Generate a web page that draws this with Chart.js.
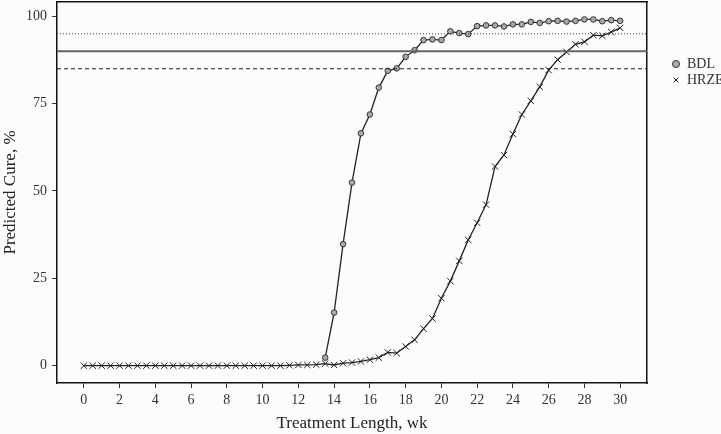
<!DOCTYPE html>
<html>
<head>
<meta charset="utf-8">
<title>Predicted cure by treatment length</title>
<script src="https://cdn.jsdelivr.net/npm/chart.js@4.4.1/dist/chart.umd.min.js"></script>
<style>
  html, body { margin: 0; padding: 0; background: #fcfcfc; }
  #wrap { width: 721px; height: 434px; position: relative; }
</style>
</head>
<body>
<div id="wrap"><canvas id="cure-chart"></canvas></div>
<script>
// treatment length, weeks (half-week steps)
var weeks = [0, 0.5, 1, 1.5, 2, 2.5, 3, 3.5, 4, 4.5, 5, 5.5, 6, 6.5, 7, 7.5, 8, 8.5, 9, 9.5,
    10, 10.5, 11, 11.5, 12, 12.5, 13, 13.5, 14, 14.5, 15, 15.5, 16, 16.5, 17, 17.5, 18, 18.5, 19, 19.5,
    20, 20.5, 21, 21.5, 22, 22.5, 23, 23.5, 24, 24.5, 25, 25.5, 26, 26.5, 27, 27.5, 28, 28.5, 29, 29.5, 30];

// HRZE, one value per week above
var hrzeCure = [0, 0, 0, 0, 0, 0, 0, 0, 0, 0, 0, 0, 0, 0, 0, 0, 0, 0, 0, 0,
    0, 0, 0, 0.1, 0.2, 0.2, 0.3, 0.6, 0.2, 0.7, 0.9, 1.2, 1.7, 2.3, 3.8, 3.6, 5.5, 7.4, 10.6, 13.5,
    19.3, 24.2, 30, 36, 40.9, 46.1, 57, 60.3, 66.3, 71.9, 75.8, 79.8, 84.6, 87.6, 89.8, 92, 92.7, 94.6, 94.4, 95.5, 96.7];

// BDL starts at 13.5 weeks
var bdlStart = 13.5;
var bdlCure = [2.3, 15.2, 34.8, 52.4, 66.5, 71.9, 79.6, 84.4, 85.1, 88.4, 90.3, 93.2, 93.4, 93.2, 95.7, 95.2,
    94.9, 97.2, 97.4, 97.4, 97.1, 97.7, 97.7, 98.4, 98.1, 98.6, 98.7, 98.5, 98.7, 99.1, 99.1, 98.6, 98.9, 98.7];

// reference levels: 95 dotted, 90 solid, 85 dashed
var refLevels = [95, 90, 85];

var xTicks = [0, 2, 4, 6, 8, 10, 12, 14, 16, 18, 20, 22, 24, 26, 28, 30];
var yTicks = [0, 25, 50, 75, 100];

var xMin = -1.5, xMax = 31.5;
var yMin = -4.96, yMax = 104.1;

var serif = "'Liberation Serif', 'Times New Roman', serif";
var ink = '#222';

var hrzePoints = weeks.map(function (w, i) { return {x: w, y: hrzeCure[i]}; });
var bdlWeeks = weeks.slice(weeks.indexOf(bdlStart));
var bdlPoints = bdlWeeks.map(function (w, i) { return {x: w, y: bdlCure[i]}; });

function refLine(level, color, width, dash) {
    return {
        label: 'ref' + level,
        data: [{x: xMin, y: level}, {x: xMax, y: level}],
        borderColor: color,
        borderWidth: width,
        borderDash: dash,
        pointRadius: 0,
        pointHoverRadius: 0,
        fill: false
    };
}

var datasets = [
    refLine(refLevels[0], '#444', 1, [1, 2]),
    refLine(refLevels[1], '#666', 2, []),
    refLine(refLevels[2], '#222', 1.2, [4, 3]),
    {
        label: 'BDL',
        data: bdlPoints,
        borderColor: ink,
        borderWidth: 1.3,
        pointStyle: 'circle',
        pointRadius: 2.8,
        pointBorderWidth: 1,
        pointBackgroundColor: '#aaa',
        pointBorderColor: '#333',
        fill: false
    },
    {
        label: 'HRZE',
        data: hrzePoints,
        borderColor: ink,
        borderWidth: 1.3,
        pointStyle: 'crossRot',
        pointRadius: 4.5,
        pointBorderWidth: 1,
        pointBorderColor: '#222',
        fill: false
    }
];

// no label overhang padding: the frame sits where the reference puts it
function noPad(scale) {
    scale.paddingTop = 0;
    scale.paddingBottom = 0;
    scale.paddingLeft = 0;
    scale.paddingRight = 0;
}

var ctx = document.getElementById('cure-chart');
var cureChart = new Chart(ctx, {
    type: 'line',
    data: {datasets: datasets},
    options: {
        responsive: true,
        maintainAspectRatio: false,
        animation: false,
        devicePixelRatio: 1,
        layout: {autoPadding: false, padding: {top: 2, left: 0, right: 0, bottom: 0}},
        plugins: {
            tooltip: {enabled: false},
            legend: {
                position: 'right',
                align: 'start',
                maxWidth: 51,
                title: {display: true, text: ' ', font: {size: 10}, padding: {top: 41, bottom: 0}},
                labels: {
                    filter: function (item) { return item.text === 'BDL' || item.text === 'HRZE'; },
                    usePointStyle: true,
                    boxWidth: 8,
                    boxHeight: 5,
                    padding: 2,
                    color: '#333',
                    font: {family: serif, size: 14}
                }
            }
        },
        scales: {
            x: {
                type: 'linear',
                position: 'bottom',
                min: xMin,
                max: xMax,
                afterBuildTicks: function (scale) {
                    scale.ticks = xTicks.map(function (v) { return {value: v}; });
                },
                afterFit: function (scale) { scale.height = 51; noPad(scale); },
                grid: {drawOnChartArea: false, drawTicks: true, tickLength: 5, tickColor: '#333'},
                border: {display: true, color: '#111', width: 1.5},
                ticks: {color: '#333', padding: 4, maxRotation: 0, font: {family: serif, size: 14}},
                title: {display: true, text: 'Treatment Length, wk', color: '#222',
                    padding: {top: 0, bottom: 0}, font: {family: serif, size: 17}}
            },
            y: {
                type: 'linear',
                position: 'left',
                min: yMin,
                max: yMax,
                afterBuildTicks: function (scale) {
                    scale.ticks = yTicks.map(function (v) { return {value: v}; });
                },
                afterFit: function (scale) { scale.width = 57; noPad(scale); },
                grid: {drawOnChartArea: false, drawTicks: true, tickLength: 5, tickColor: '#333'},
                border: {display: true, color: '#111', width: 1.5},
                ticks: {color: '#333', padding: 5, font: {family: serif, size: 14}},
                title: {display: true, text: 'Predicted Cure, %', color: '#222',
                    padding: {top: 0, bottom: 0}, font: {family: serif, size: 17}}
            },
            xTop: {
                type: 'linear',
                position: 'top',
                min: 0, max: 1,
                afterFit: function (scale) { scale.height = 0; noPad(scale); },
                grid: {display: false, drawTicks: false},
                ticks: {display: false},
                border: {display: true, color: '#111', width: 1.5}
            },
            yRight: {
                type: 'linear',
                position: 'right',
                min: 0, max: 1,
                afterFit: function (scale) { scale.width = 23; noPad(scale); },
                grid: {display: false, drawTicks: false},
                ticks: {display: false},
                border: {display: true, color: '#111', width: 1.5}
            }
        }
    }
});
</script>
</body>
</html>
